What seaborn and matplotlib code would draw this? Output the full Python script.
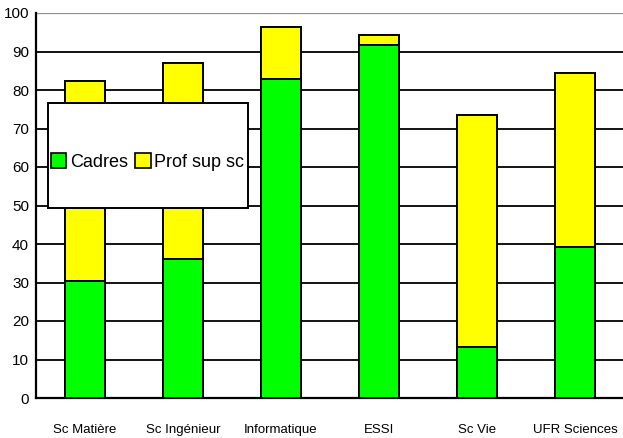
import matplotlib
matplotlib.use("Agg")
import matplotlib.pyplot as plt
from matplotlib.patches import Patch, Rectangle
import seaborn as sns
import pandas as pd
import numpy as np

categories = ["Sc Matière", "Sc Ingénieur", "Informatique", "ESSI", "Sc Vie", "UFR Sciences"]
cadres = [30.5, 36.1, 82.9, 91.7, 13.3, 39.3]
prof_sup_sc = [51.9, 51.0, 13.5, 2.7, 60.2, 45.2]
y_ticks = [0, 10, 20, 30, 40, 50, 60, 70, 80, 90, 100]
series_names = ["Cadres", "Prof sup sc"]

GREEN = "#00FF00"
YELLOW = "#FFFF00"

sns.set_theme(style="white")
plt.rcParams["font.family"] = ["Liberation Sans", "DejaVu Sans"]

df = pd.DataFrame({
    "categorie": categories,
    "Cadres": cadres,
    "Prof sup sc": prof_sup_sc,
})
df["total"] = df["Cadres"] + df["Prof sup sc"]

fig = plt.figure(figsize=(6.23, 4.38), dpi=100)
ax = fig.add_axes([36 / 623, 40 / 438, 588 / 623, 385 / 438])

# horizontal grid lines behind the bars
for v in y_ticks[1:-1]:
    ax.axhline(v, color="black", lw=1.3, zorder=0)
ax.axhline(100, color="#909090", lw=1.6, zorder=0)

# stacked bars: full height in yellow, Cadres share in green on top of it
sns.barplot(data=df, x="categorie", y="total", color=YELLOW, width=0.4,
            edgecolor="black", linewidth=1.4, saturation=1, ax=ax, zorder=2)
sns.barplot(data=df, x="categorie", y="Cadres", color=GREEN, width=0.4,
            edgecolor="black", linewidth=1.4, saturation=1, ax=ax, zorder=3)

ax.set_xlim(-0.5, len(categories) - 0.5)
ax.set_ylim(0, 100)
ax.set_yticks(y_ticks)
ax.set_yticklabels([str(v) for v in y_ticks], fontsize=11)
ax.set_xlabel("")
ax.set_ylabel("")
ax.tick_params(axis="x", which="major", length=0, pad=19, labelsize=9.5)
ax.set_xticks(np.arange(0.5, len(categories) - 0.5, 1), minor=True)
ax.tick_params(axis="x", which="minor", length=4, width=1.3, color="black", direction="out")
ax.tick_params(axis="y", length=4, width=1.3, color="black", direction="out", pad=1)
for lab in ax.get_yticklabels() + ax.get_xticklabels():
    lab.set_color("black")

for s in ["right", "top"]:
    ax.spines[s].set_visible(False)
ax.spines["left"].set_color("black")
ax.spines["left"].set_linewidth(1.6)
ax.spines["bottom"].set_color("black")
ax.spines["bottom"].set_linewidth(1.6)

# legend box
box = Rectangle((12 / 588, 190 / 385), 200 / 588, 105 / 385, transform=ax.transAxes,
                facecolor="white", edgecolor="black", lw=1.4, zorder=5)
ax.add_patch(box)
handles = [Patch(facecolor=GREEN, edgecolor="black", lw=1.2),
           Patch(facecolor=YELLOW, edgecolor="black", lw=1.2)]
leg = ax.legend(handles, series_names, loc="center left",
                bbox_to_anchor=(15 / 588, 236 / 385), ncol=2, frameon=False,
                handlelength=0.85, handleheight=0.85, handletextpad=0.2,
                columnspacing=0.4, borderpad=0, borderaxespad=0,
                prop={"size": 13})
leg.set_zorder(6)
for t in leg.get_texts():
    t.set_color("black")
    t.set_clip_path(box)

fig.savefig("out.png", dpi=100, facecolor="white")
